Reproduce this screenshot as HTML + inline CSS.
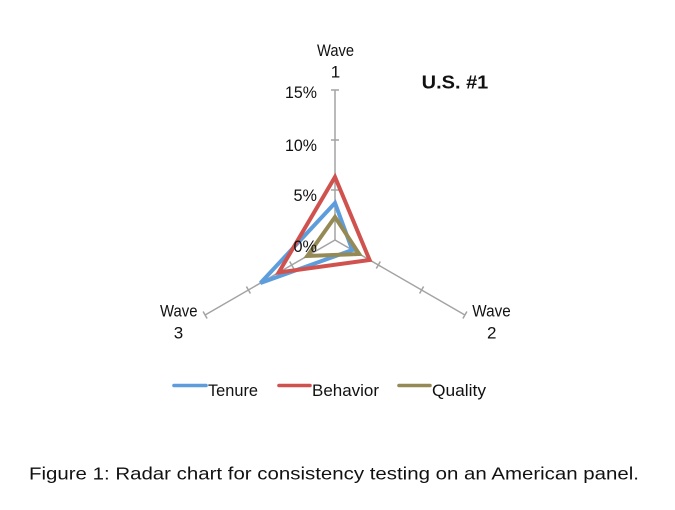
<!DOCTYPE html>
<html>
<head>
<meta charset="utf-8">
<style>
html,body{margin:0;padding:0;background:#fff;}
svg{display:block;}
text{font-family:"Liberation Sans",sans-serif;fill:#111;}
</style>
</head>
<body>
<svg width="675" height="510" viewBox="0 0 675 510" xmlns="http://www.w3.org/2000/svg">
  <rect width="675" height="510" fill="#fff"/>
  <!-- axes -->
  <g stroke="#a3a3a3" stroke-width="1.5" fill="none">
    <line x1="335" y1="240" x2="335" y2="90"/>
    <line x1="335" y1="240" x2="464.9" y2="315"/>
    <line x1="335" y1="240" x2="205.1" y2="315"/>
    <!-- ticks wave1 -->
    <line x1="331" y1="190" x2="339" y2="190"/>
    <line x1="331" y1="140" x2="339" y2="140"/>
    <line x1="331" y1="90" x2="339" y2="90"/>
    <!-- ticks wave2 -->
    <line x1="376.3" y1="268.5" x2="380.3" y2="261.5"/>
    <line x1="419.6" y1="293.5" x2="423.6" y2="286.5"/>
    <line x1="462.9" y1="318.5" x2="466.9" y2="311.5"/>
    <!-- ticks wave3 -->
    <line x1="293.7" y1="268.5" x2="289.7" y2="261.5"/>
    <line x1="250.4" y1="293.5" x2="246.4" y2="286.5"/>
    <line x1="207.1" y1="318.5" x2="203.1" y2="311.5"/>
  </g>
  <!-- series -->
  <g fill="none" stroke-width="4" stroke-linejoin="miter">
    <polygon points="335,203 352.3,250 260.5,283" stroke="#5d9ddb"/>
    <polygon points="335,177 369.6,260 278.7,272.5" stroke="#d0524e"/>
    <polygon points="335,217 359.2,254 307.3,256" stroke="#958a56"/>
  </g>
  <!-- axis labels -->
  <g font-size="17">
    <text x="317" y="98" text-anchor="end" textLength="32" lengthAdjust="spacingAndGlyphs">15%</text>
    <text x="317" y="151" text-anchor="end" textLength="32" lengthAdjust="spacingAndGlyphs">10%</text>
    <text x="317" y="201" text-anchor="end" textLength="23.5" lengthAdjust="spacingAndGlyphs">5%</text>
    <text x="317" y="252" text-anchor="end" textLength="23.5" lengthAdjust="spacingAndGlyphs">0%</text>

    <text x="317" y="56" textLength="37" lengthAdjust="spacingAndGlyphs">Wave</text>
    <text x="335.5" y="77.5" text-anchor="middle">1</text>

    <text x="472.3" y="316.7" textLength="38.4" lengthAdjust="spacingAndGlyphs">Wave</text>
    <text x="491.7" y="338.3" text-anchor="middle">2</text>

    <text x="160" y="316.7" textLength="37.5" lengthAdjust="spacingAndGlyphs">Wave</text>
    <text x="178.5" y="338.3" text-anchor="middle">3</text>
  </g>
  <text x="421.7" y="88.3" font-size="18" font-weight="bold" textLength="66.6" lengthAdjust="spacingAndGlyphs">U.S. #1</text>
  <!-- legend -->
  <g stroke-width="3.6" stroke-linecap="round">
    <line x1="174" y1="385.5" x2="206" y2="385.5" stroke="#5d9ddb"/>
    <line x1="279" y1="385.5" x2="310" y2="385.5" stroke="#d0524e"/>
    <line x1="399" y1="385.5" x2="430" y2="385.5" stroke="#958a56"/>
  </g>
  <g font-size="17">
    <text x="208" y="396" textLength="50" lengthAdjust="spacingAndGlyphs">Tenure</text>
    <text x="312" y="396" textLength="67" lengthAdjust="spacingAndGlyphs">Behavior</text>
    <text x="432" y="396" textLength="54" lengthAdjust="spacingAndGlyphs">Quality</text>
  </g>
  <!-- caption -->
  <text x="29" y="479.3" font-size="17.5" textLength="610" lengthAdjust="spacingAndGlyphs">Figure 1: Radar chart for consistency testing on an American panel.</text>
</svg>
</body>
</html>
